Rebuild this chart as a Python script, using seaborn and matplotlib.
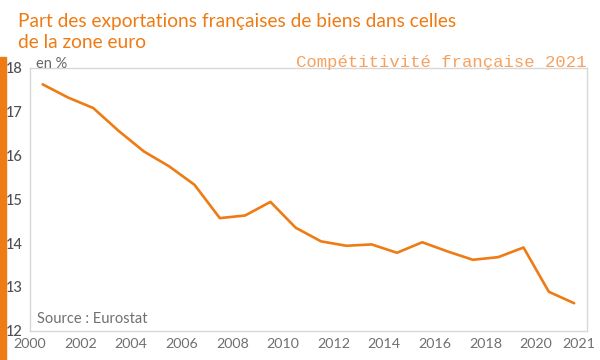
import matplotlib
matplotlib.use("Agg")
import matplotlib.pyplot as plt
import seaborn as sns
import pandas as pd
from matplotlib.patches import Rectangle

years = list(range(2000, 2022))
share = [17.62, 17.32, 17.08, 16.56, 16.09, 15.75, 15.33, 14.57, 14.63, 14.94,
         14.35, 14.04, 13.94, 13.97, 13.78, 14.02, 13.81, 13.62, 13.68, 13.90,
         12.89, 12.63]
xtick_pos = [2000, 2002, 2004, 2006, 2008, 2010, 2012, 2014, 2016, 2018, 2020, 2021.68]
xtick_labels = ["2000", "2002", "2004", "2006", "2008", "2010", "2012", "2014",
                "2016", "2018", "2020", "2021"]
yticks = [12, 13, 14, 15, 16, 17, 18]

df = pd.DataFrame({"x": [y + 0.5 for y in years], "share": share})

sns.set_theme(style="white")
plt.rcParams["font.family"] = ["Lato", "DejaVu Sans"]

ORANGE = "#EE7B14"
fig = plt.figure(figsize=(6, 3.6), dpi=100)
ax = fig.add_axes([0.05, 0.081, 0.928, 0.731])

sns.lineplot(data=df, x="x", y="share", ax=ax, color=ORANGE, linewidth=1.9)

ax.set_xlim(2000, 2022)
ax.set_ylim(12, 18)
ax.set_xticks(xtick_pos)
ax.set_xticklabels(xtick_labels)
ax.set_yticks(yticks)
ax.set_yticklabels([str(v) for v in yticks])
ax.set_xlabel("")
ax.set_ylabel("")
ax.tick_params(axis="x", length=3, color="#cccccc", labelsize=10.3, labelcolor="#707070", pad=2.5)
ax.tick_params(axis="y", length=0, labelsize=10.5, labelcolor="#505050", pad=5)
for lbl in ax.get_yticklabels():
    lbl.set_fontweight("medium")
for s in ax.spines.values():
    s.set_color("#d8d8d8")
    s.set_linewidth(1)
ax.grid(False)

fig.patches.append(Rectangle((0, 0), 0.0105, 0.842, transform=fig.transFigure,
                             color=ORANGE, zorder=5))
fig.text(0.03, 0.939, "Part des exportations françaises de biens dans celles",
         color=ORANGE, fontsize=13.8, va="center", ha="left")
fig.text(0.03, 0.883, "de la zone euro", color=ORANGE, fontsize=13.8, va="center", ha="left")
fig.text(0.06, 0.823, "en %", color="#666666", fontsize=10.5, va="center", ha="left")
fig.text(0.978, 0.826, "Compétitivité française 2021", color="#F5A261", fontsize=12.4,
         family="Liberation Mono", va="center", ha="right")
ax.text(0.012, 0.045, "Source : Eurostat", transform=ax.transAxes, color="#707070",
        fontsize=10.5, va="center", ha="left")

fig.savefig("out.png", dpi=100)
